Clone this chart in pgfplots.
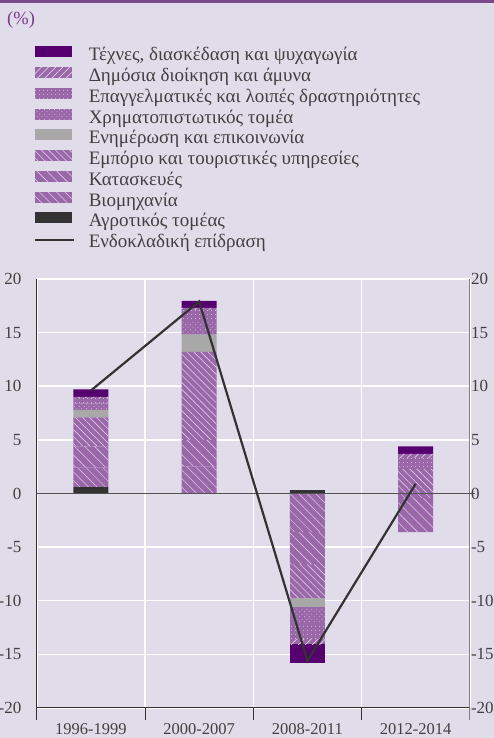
\documentclass[border=0pt]{standalone}
\usepackage{fontspec}
\setmainfont{Liberation Serif}
\usepackage{pgfplots}
\pgfplotsset{compat=1.18}
\usetikzlibrary{patterns,patterns.meta}
\definecolor{bg}{HTML}{E0DCEA}
\definecolor{band}{HTML}{7B4A8B}
\definecolor{arts}{HTML}{560070}
\definecolor{hp}{HTML}{9A68A8}
\definecolor{hl}{HTML}{DCCBE6}
\definecolor{info}{HTML}{A8A8A8}
\definecolor{agri}{HTML}{333333}
\definecolor{txt}{HTML}{404040}
\definecolor{pct}{HTML}{7B3A8B}
\tikzset{
  sArts/.style={fill=arts, draw=none},
  sPub/.style={fill=hp, draw=none, postaction={pattern={Lines[angle=45,distance=5pt,line width=0.7pt]}, pattern color=hl}},
  sProf/.style={fill=hp, draw=none, postaction={pattern={Dots[distance=4pt,radius=0.6pt]}, pattern color=hl}},
  sFin/.style={fill=hp, draw=none, postaction={pattern={Dots[distance=3.5pt,radius=0.55pt,angle=45]}, pattern color=hl}},
  sInfo/.style={fill=info, draw=none},
  sTrade/.style={fill=hp, draw=none, postaction={pattern={Lines[angle=-45,distance=5pt,line width=0.6pt]}, pattern color=hl}},
  sCons/.style={fill=hp, draw=none, postaction={pattern={Lines[angle=-45,distance=7pt,line width=0.6pt]}, pattern color=hl}},
  sInd/.style={fill=hp, draw=none, postaction={pattern={Lines[angle=-45,distance=6pt,line width=0.5pt]}, pattern color=hl}},
  sAgri/.style={fill=agri, draw=none},
}
\pgfplotsset{
  lineleg/.style={legend image code/.code={\draw[##1] (0pt,3pt) -- (39pt,3pt);}},
  common/.style={
    at={(34,28)}, anchor=south west, width=433pt, height=429pt, scale only axis,
    xmin=-0.5, xmax=3.5, ymin=-20, ymax=20,
    ytick={-20,-15,...,20},
    tick label style={font=\fontsize{17}{19}\selectfont, text=txt},
    /pgf/number format/assume math mode=true,
  },
}
\begin{document}
\begin{tikzpicture}[x=1pt,y=1pt]
\fill[bg] (0,0) rectangle (494,738);
\useasboundingbox (0,0) rectangle (494,738);
\fill[band] (0,735) rectangle (494,738);
\node[anchor=west, text=pct, font=\fontsize{18.5}{20}\selectfont, inner sep=0pt] at (7,718) {(\%)};

% positive parts
\begin{axis}[common,
  ybar stacked, bar width=35pt,
  axis x line*=bottom, axis y line*=left,
  axis line style={draw=agri, line width=1pt, -},
  y axis line style={shorten <=-12pt},
  xtick={-0.5,0.5,1.5,2.5,3.5}, x tick label as interval,
  xticklabels={1996-1999,2000-2007,2008-2011,2012-2014},
  xticklabel style={font=\fontsize{16.5}{18}\selectfont, text=txt, inner sep=0pt},
  xticklabel shift=3pt,
  xtick style={draw=agri, line width=1pt},
  ytick style={draw=none},
  tick align=outside, major tick length=12pt,
  xmajorgrids, ymajorgrids, grid style={white, line width=1.5pt},
]
\addplot[sAgri]  coordinates {(0,0.6) (1,0) (2,0.3) (3,0)};
\addplot[sInd]   coordinates {(0,1.8) (1,2.5) (2,0) (3,0)};
\addplot[sCons]  coordinates {(0,2.0) (1,2.5) (2,0) (3,0)};
\addplot[sTrade] coordinates {(0,2.7) (1,8.2) (2,0) (3,2.3)};
\addplot[sInfo]  coordinates {(0,0.7) (1,1.6) (2,0) (3,0)};
\addplot[sFin]   coordinates {(0,0.6) (1,1.3) (2,0) (3,0)};
\addplot[sProf]  coordinates {(0,0.5) (1,1.0) (2,0) (3,1.0)};
\addplot[sPub]   coordinates {(0,0.1) (1,0.2) (2,0) (3,0.4)};
\addplot[sArts]  coordinates {(0,0.7) (1,0.65) (2,0) (3,0.7)};
\end{axis}

% negative parts
\begin{axis}[common,
  ybar stacked, bar width=35pt,
  axis x line=none, axis y line*=right,
  axis line style={draw=gray, line width=1pt, -},
  y axis line style={shorten <=-12pt},
  yticklabel style={inner xsep=1pt},
  ytick style={draw=none},
]
\addplot[sInd]   coordinates {(0,0) (1,0) (2,-3.6) (3,-0.4)};
\addplot[sCons]  coordinates {(0,0) (1,0) (2,-3.0) (3,-3.2)};
\addplot[sTrade] coordinates {(0,0) (1,0) (2,-3.1) (3,0)};
\addplot[sInfo]  coordinates {(0,0) (1,0) (2,-0.85) (3,0)};
\addplot[sFin]   coordinates {(0,0) (1,0) (2,-1.5) (3,0)};
\addplot[sProf]  coordinates {(0,0) (1,0) (2,-1.5) (3,0)};
\addplot[sPub]   coordinates {(0,0) (1,0) (2,-0.5) (3,0)};
\addplot[sArts]  coordinates {(0,0) (1,0) (2,-1.8) (3,0)};
\end{axis}

% line + legend
\begin{axis}[common, hide axis, clip=false,
  legend image code/.code={\fill[#1] (0pt,-0.5pt) rectangle (37pt,10.5pt);},
  legend cell align=left,
  legend style={at={(rel axis cs:-0.007,1.542)}, anchor=north west, draw=none, fill=none,
    inner sep=0pt, outer sep=0pt,
    font=\fontsize{19}{21}\selectfont, text=txt,
    nodes={text height=12pt, text depth=4pt, inner ysep=2.25pt, inner xsep=1pt},
    /tikz/every odd column/.append style={column sep=13pt}},
]
\draw[draw=agri!85, line width=1pt] (axis cs:-0.5,0) -- (axis cs:3.55,0);
\addplot[agri, line width=2.2pt, forget plot] coordinates {(0,9.6) (1,17.9) (2,-15.6) (3,0.9)};
\addlegendimage{sArts}  \addlegendentry{Τέχνες, διασκέδαση και ψυχαγωγία}
\addlegendimage{sPub}   \addlegendentry{Δημόσια διοίκηση και άμυνα}
\addlegendimage{sProf}  \addlegendentry{Επαγγελματικές και λοιπές δραστηριότητες}
\addlegendimage{sFin}   \addlegendentry{Χρηματοπιστωτικός τομέα}
\addlegendimage{sInfo}  \addlegendentry{Ενημέρωση και επικοινωνία}
\addlegendimage{sTrade} \addlegendentry{Εμπόριο και τουριστικές υπηρεσίες}
\addlegendimage{sCons}  \addlegendentry{Κατασκευές}
\addlegendimage{sInd}   \addlegendentry{Βιομηχανία}
\addlegendimage{sAgri}  \addlegendentry{Αγροτικός τομέας}
\addlegendimage{lineleg, draw=agri, line width=2pt} \addlegendentry{Ενδοκλαδική επίδραση}
\end{axis}
\end{tikzpicture}
\end{document}
